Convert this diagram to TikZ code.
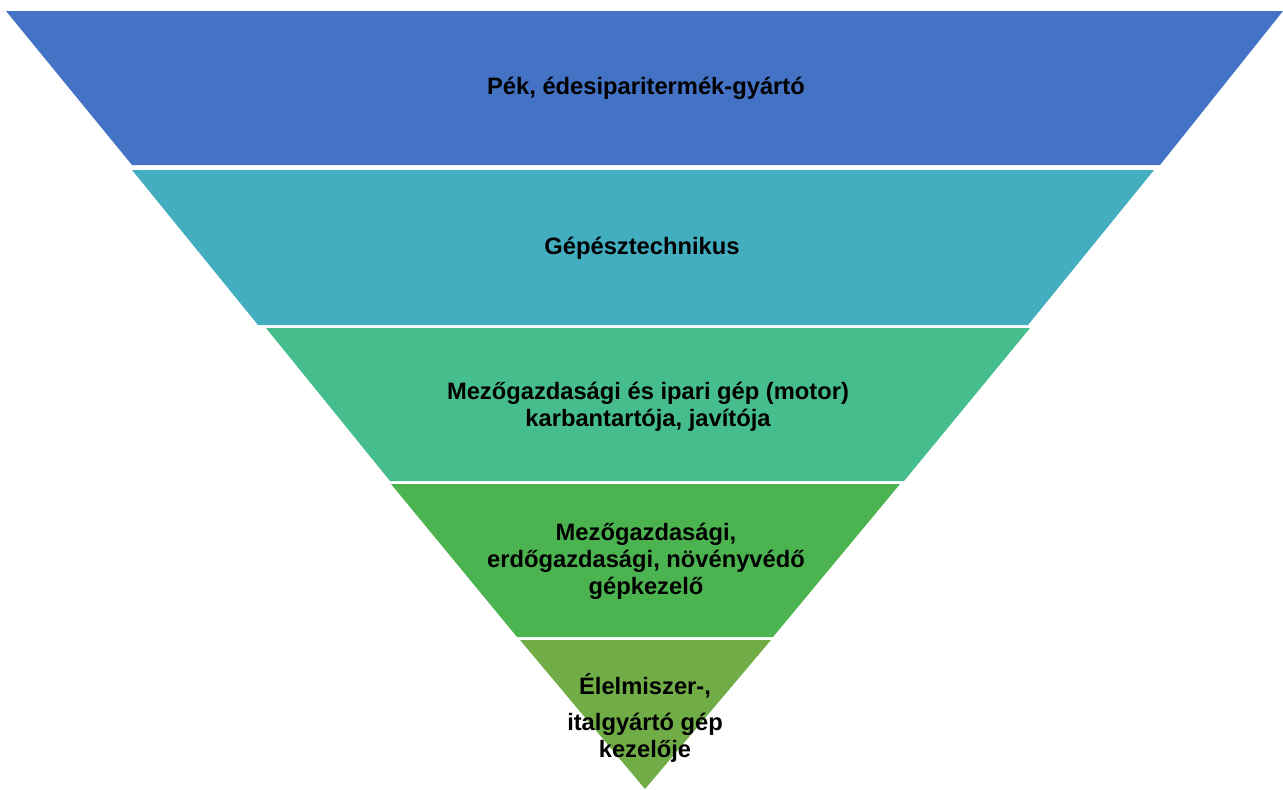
\documentclass[tikz,border=0pt]{standalone}
\usepackage{fontspec}
\setmainfont{Liberation Sans}
\usepackage{tikz}
\usetikzlibrary{positioning}
\definecolor{fnblue}{RGB}{68,114,196}
\definecolor{fnteal}{RGB}{67,174,192}
\definecolor{fnmint}{RGB}{69,189,141}
\definecolor{fngreen}{RGB}{75,180,80}
\definecolor{fnolive}{RGB}{112,173,71}
\tikzstyle{bandtext} = [font=\bfseries\fontsize{13.5}{15.4}\selectfont, align=center, text=black, inner sep=0pt]

\begin{document}
\begin{tikzpicture}[x=0.02cm, y=-0.02cm]
\useasboundingbox (0,0) rectangle (1283,789);

% Funnel bands, top to bottom
\fill[fnblue] (6,11) -- (1283,11) -- (1160,165) -- (132,165) -- cycle;
\fill[fnteal] (132,170) -- (1154,170) -- (1028,325) -- (258,325) -- cycle;
\fill[fnmint] (266,328) -- (1030,328) -- (904,481) -- (390,481) -- cycle;
\fill[fngreen] (391,484) -- (900,484) -- (773,637) -- (517,637) -- cycle;
\fill[fnolive] (520,640) -- (771,640) -- (645,789) -- cycle;

% Band labels
\node[bandtext] (pek) at (646,88) {Pék, édesiparitermék-gyártó};
\node[bandtext] (gepesz) at (642,248) {Gépésztechnikus};
\node[bandtext] (motor) at (648,407) {Mezőgazdasági és ipari gép (motor)\\karbantartója, javítója};
\node[bandtext] (kezelo) at (646,561) {Mezőgazdasági,\\erdőgazdasági, növényvédő\\gépkezelő};
\node[bandtext] (elelm) at (645,718) {Élelmiszer-,\\[5pt]italgyártó gép\\kezelője};
\end{tikzpicture}
\end{document}
